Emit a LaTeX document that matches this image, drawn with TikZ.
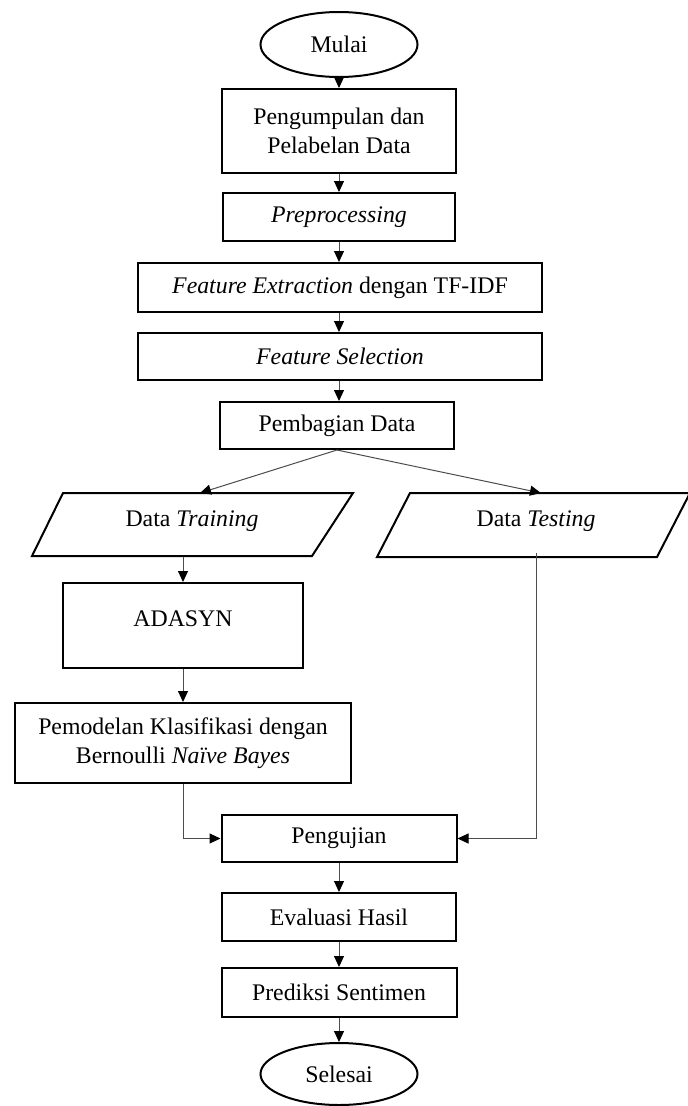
\documentclass[tikz,border=0pt]{standalone}
\usepackage{fontspec}
\setmainfont{Liberation Serif}
\usetikzlibrary{shapes.geometric,arrows.meta}
\begin{document}
\begin{tikzpicture}[x=1pt,y=-1pt,
  lbl/.style={font=\fontsize{23.8}{29}\selectfont},
  box/.style={lbl,draw=black,line width=2pt,rectangle,inner sep=0pt,align=center},
  term/.style={lbl,draw=black,line width=2pt,ellipse,inner sep=0pt,minimum width=157pt},
  para/.style={draw=black,line width=2pt,line join=miter},
  ptext/.style={lbl,inner sep=0pt,minimum height=64pt},
  conn/.style={draw=black!70,line width=1pt,-{Triangle[length=11pt,width=10pt,color=black,fill=black]}},
  wire/.style={draw=black!70,line width=1pt}
]
\useasboundingbox (0,0) rectangle (688,1106);

% main column
\node[term,minimum height=65pt] (mulai) at (339,44.5) {Mulai};
\node[box,minimum width=234pt,minimum height=84pt] (kumpul) at (339,131) {Pengumpulan dan\\Pelabelan Data};
\node[box,minimum width=232pt,minimum height=48pt] (prep) at (339,217) {\textit{Preprocessing}};
\node[box,minimum width=404pt,minimum height=49pt] (fext) at (340,287.5) {\textit{Feature Extraction} dengan TF-IDF};
\node[box,minimum width=404pt,minimum height=47pt] (fsel) at (340,356.5) {\textit{Feature Selection}};
\node[box,minimum width=234pt,minimum height=47pt] (bagi) at (337,425.5) {Pembagian Data};

% parallelograms
\draw[para] (63,493) -- (353,493) -- (312,556) -- (32,556) -- cycle;
\node[ptext,minimum width=250pt] (train) at (192,521) {Data \textit{Training}};
\draw[para] (410,493) -- (690,493) -- (657,557) -- (377,557) -- cycle;
\node[ptext,minimum width=240pt] (test) at (536,521) {Data \textit{Testing}};
\coordinate (trainin) at (200,493);
\coordinate (testin) at (541,493);

% left column
\node[box,minimum width=240pt,minimum height=85pt,
      label={[lbl,yshift=7pt]center:ADASYN}] (adasyn) at (183,625.5) {};
\node[box,minimum width=336pt,minimum height=80pt] (model) at (183,743) {Pemodelan Klasifikasi dengan\\Bernoulli \textit{Naïve Bayes}};

% bottom column
\node[box,minimum width=235pt,minimum height=47pt] (uji) at (339,838.5) {Pengujian};
\node[box,minimum width=234pt,minimum height=48pt] (eval) at (339,917) {Evaluasi Hasil};
\node[box,minimum width=235pt,minimum height=49pt] (pred) at (339,992.5) {Prediksi Sentimen};
\node[term,minimum height=62pt] (selesai) at (339,1074) {Selesai};

% connectors
\draw[conn] (mulai) -- (kumpul);
\draw[conn] (kumpul) -- (prep);
\draw[conn] (prep) -- (fext.north -| prep.south);
\draw[conn] (fext.south -| prep.south) -- (fsel.north -| prep.south);
\draw[conn] (fsel.south -| prep.south) -- (bagi.north -| prep.south);
\draw[conn] (bagi.south) -- (trainin);
\draw[conn] (bagi.south) -- (testin);
\draw[conn] (adasyn.north |- 0,557) -- (adasyn.north);
\draw[conn] (adasyn) -- (model);
\draw[conn] (model.south) |- (uji.west);
\draw[conn] (test.south) |- (uji.east);
\draw[conn] (uji) -- (eval);
\draw[conn] (eval) -- (pred);
\draw[conn] (pred) -- (selesai);
\end{tikzpicture}
\end{document}
